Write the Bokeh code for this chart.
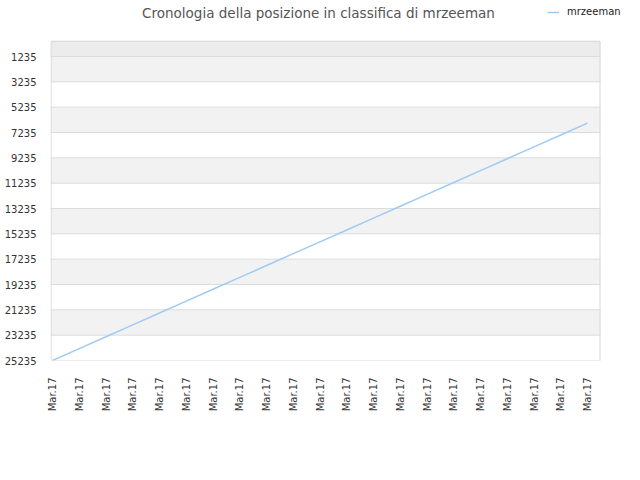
from bokeh.plotting import figure
from bokeh.models import Range1d, FixedTicker, BoxAnnotation, Legend, LegendItem, Label
from bokeh.embed import file_html
from bokeh.resources import INLINE
import math

# ---- data ----
dates = ["Mar.17"] * 21
positions = [25235, 24298, 23361, 22424, 21487, 20550, 19613, 18676, 17739, 16802,
             15865, 14928, 13991, 13054, 12117, 11180, 10243, 9306, 8369, 7432, 6495]
y_ticks = [1235, 3235, 5235, 7235, 9235, 11235, 13235, 15235, 17235, 19235, 21235, 23235, 25235]
series_name = "mrzeeman"
title_text = "Cronologia della posizione in classifica di mrzeeman"

xs = list(range(len(dates)))

# ---- layout constants (pixels) ----
W, H = 640, 480
FRAME_LEFT = 50          # left edge of plot box
BOX_RIGHT = 600          # right edge of plot box
BOX_TOP_VALUE = 0        # rank value at top edge of plot box
BOTTOM = 360             # bottom edge of plot box
PX_PER_X = 26.75         # pixels per category step
PX_PER_Y = 304 / (y_ticks[-1] - y_ticks[0])  # pixels per rank unit

x_start = -2 / PX_PER_X
x_end = x_start + (W - FRAME_LEFT) / PX_PER_X
x_box_right = x_start + (BOX_RIGHT - FRAME_LEFT) / PX_PER_X
y_canvas_top = y_ticks[-1] - BOTTOM / PX_PER_Y
half_x = 0.5 / PX_PER_X
half_y = 0.5 / PX_PER_Y

p = figure(width=W, height=H, output_backend="svg", toolbar_location=None,
           x_range=Range1d(x_start, x_end),
           y_range=Range1d(y_ticks[-1], y_canvas_top),
           min_border_left=FRAME_LEFT, min_border_right=0, min_border_top=0,
           min_border_bottom=H - BOTTOM)

p.background_fill_color = "white"
p.border_fill_color = "white"
p.outline_line_color = None
p.xgrid.grid_line_color = None
p.ygrid.grid_line_color = None

# plot box: top strip and alternating bands
p.add_layout(BoxAnnotation(left=x_start, right=x_box_right, top=BOX_TOP_VALUE, bottom=y_ticks[0],
                           fill_color="#ececec", fill_alpha=1, line_color=None, level="image"))
for i in range(0, len(y_ticks) - 1, 2):
    p.add_layout(BoxAnnotation(left=x_start, right=x_box_right, top=y_ticks[i], bottom=y_ticks[i + 1],
                               fill_color="#f2f2f2", fill_alpha=1, line_color=None, level="image"))

# horizontal grid lines limited to the plot box
p.segment(x0=[x_start] * len(y_ticks), x1=[x_box_right] * len(y_ticks),
          y0=y_ticks, y1=y_ticks, line_color="#dcdcdc", line_width=1)

# outline of the plot box: top, left and right edges
bx_l, bx_r = x_start + half_x, x_box_right - half_x
by_t, by_b = BOX_TOP_VALUE + half_y, y_ticks[-1]
p.segment(x0=[bx_l, bx_l, bx_r], x1=[bx_r, bx_l, bx_r],
          y0=[by_t, by_t, by_t], y1=[by_t, by_b, by_b],
          line_color="#d8d8d8", line_width=1)

# axes
p.yaxis.ticker = FixedTicker(ticks=y_ticks)
p.yaxis.axis_line_color = None
p.yaxis.major_tick_line_color = None
p.yaxis.minor_tick_line_color = None
p.yaxis.major_label_text_font = "DejaVu Sans"
p.yaxis.major_label_text_font_size = "10px"
p.yaxis.major_label_text_color = "#333333"
p.yaxis.major_label_standoff = 8

p.xaxis.ticker = FixedTicker(ticks=xs)
p.xaxis.major_label_overrides = {i: d for i, d in zip(xs, dates)}
p.xaxis.major_label_orientation = math.pi / 2
p.xaxis.axis_line_color = None
p.xaxis.major_tick_line_color = None
p.xaxis.minor_tick_line_color = None
p.xaxis.major_label_text_font = "DejaVu Sans"
p.xaxis.major_label_text_font_size = "10px"
p.xaxis.major_label_text_color = "#333333"
p.xaxis.major_label_standoff = 11

# line
r = p.line(xs, positions, line_color="#9ecbf4", line_width=1.5)

# title (inside the extended frame, above the plot box)
p.add_layout(Label(x=318 - FRAME_LEFT, y=BOTTOM - 12, x_units="screen", y_units="screen",
                   text=title_text, text_align="center", text_baseline="middle",
                   text_font="DejaVu Sans", text_font_size="13.5px", text_color="#555555"))

legend = Legend(items=[LegendItem(label=series_name, renderers=[r])],
                location=(497, 343), orientation="horizontal",
                border_line_color=None, background_fill_alpha=0,
                label_text_font="DejaVu Sans", label_text_font_size="10px",
                label_text_color="#222222", glyph_width=12, glyph_height=8,
                label_standoff=8, padding=0, margin=0, spacing=0)
p.add_layout(legend)

open("out.html", "w").write(file_html(p, INLINE))
